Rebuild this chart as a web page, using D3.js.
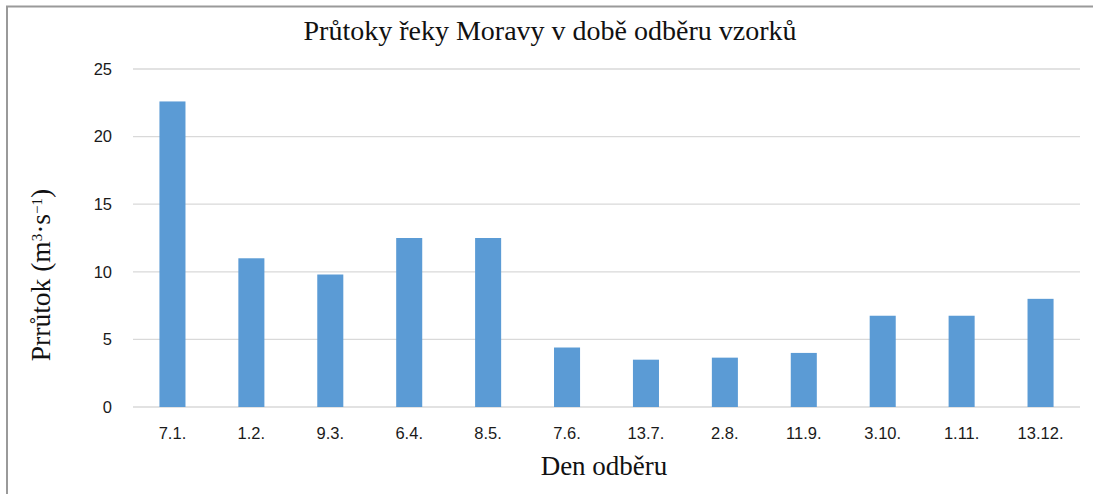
<!DOCTYPE html>
<html>
<head>
<meta charset="utf-8">
<script src="https://cdn.jsdelivr.net/npm/d3@7"></script>
<style>
body{margin:0;background:#fff;}
.serif{font-family:'Liberation Serif','Times New Roman',serif;fill:#111;}
.tick text{font-family:'Liberation Sans',Arial,sans-serif;font-size:16.5px;fill:#1a1a1a;}
</style>
</head>
<body>
<svg width="1093" height="494"></svg>
<script>
var days = ["7.1.","1.2.","9.3.","6.4.","8.5.","7.6.","13.7.","2.8.","11.9.","3.10.","1.11.","13.12."];
var flow = [22.6,11.0,9.8,12.5,12.5,4.4,3.5,3.65,4.0,6.75,6.75,8.0];
var yTicks = [0,5,10,15,20,25];

var svg = d3.select("svg");
var marge = {top:69,left:133,right:13,bottom:87};
var width = +svg.attr("width"), height = +svg.attr("height");
var w = width-marge.left-marge.right, h = height-marge.top-marge.bottom;

// ramecek
svg.append("rect").attr("x",7).attr("y",6.5).attr("width",1100).attr("height",500)
    .attr("fill","none").attr("stroke","#9a9a9a").attr("stroke-width",2);

var g = svg.append("g").attr("transform","translate("+marge.left+","+marge.top+")");

var xScale = d3.scaleBand().domain(days).range([0,w]).paddingInner(0.67).paddingOuter(0.335);
var yScale = d3.scaleLinear().domain([0,25]).range([h,0]);

// mrizka
g.selectAll(".grid").data(yTicks).enter().append("line")
    .attr("x1",0).attr("x2",w)
    .attr("y1",d=>yScale(d)).attr("y2",d=>yScale(d))
    .attr("stroke","#d9d9d9").attr("stroke-width",1.3);

var yAxis = d3.axisLeft(yScale).tickValues(yTicks).tickSize(0).tickPadding(21);
g.append("g").call(yAxis)
    .call(s=>s.select(".domain").remove());

var xAxis = d3.axisBottom(xScale).tickSize(0).tickPadding(20);
g.append("g").attr("transform","translate(0,"+h+")").call(xAxis)
    .call(s=>s.select(".domain").remove());

g.selectAll(".bar").data(flow).enter().append("rect")
    .attr("x",(d,i)=>xScale(days[i]))
    .attr("y",d=>yScale(d))
    .attr("width",xScale.bandwidth())
    .attr("height",d=>h-yScale(d))
    .attr("fill","#5b9bd5");

// popisky
svg.append("text").attr("class","serif").attr("x",550).attr("y",40).attr("text-anchor","middle")
    .style("font-size","28px")
    .text("Průtoky řeky Moravy v době odběru vzorků");

svg.append("text").attr("class","serif").attr("x",604).attr("y",475).attr("text-anchor","middle")
    .style("font-size","27px")
    .text("Den odběru");

var yl = svg.append("text").attr("class","serif").attr("transform","translate(50,275) rotate(-90)").attr("text-anchor","middle")
    .style("font-size","27.5px");
yl.append("tspan").text("Prrůtok (m");
yl.append("tspan").attr("baseline-shift","super").style("font-size","15px").text("3");
yl.append("tspan").text("·s");
yl.append("tspan").attr("baseline-shift","super").style("font-size","15px").text("−1");
yl.append("tspan").text(")");
</script>
</body>
</html>
